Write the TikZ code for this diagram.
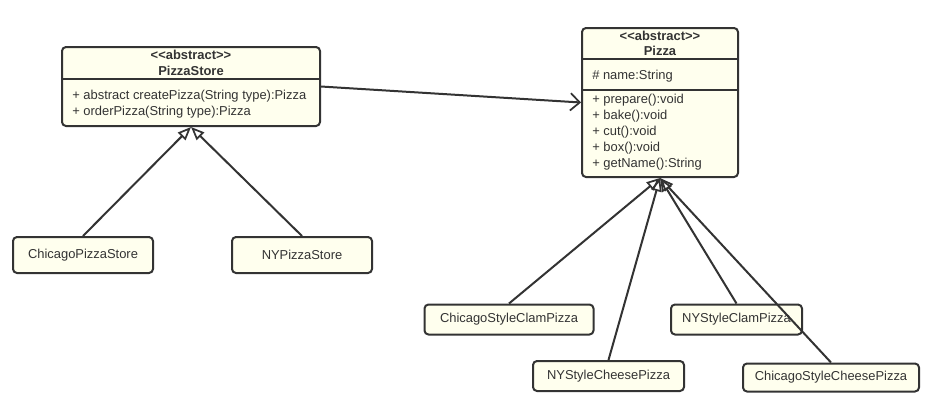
\documentclass[tikz,border=0pt]{standalone}
\usepackage{fontspec}
\setmainfont{Liberation Sans}
\usetikzlibrary{arrows.meta,calc}
\definecolor{boxfill}{RGB}{255,255,238}
\definecolor{ink}{RGB}{51,51,51}
\begin{document}
\begin{tikzpicture}[x=0.75pt,y=-0.75pt,
  bodytxt/.style={font=\fontsize{9.7}{12}\selectfont, text=ink, inner sep=0pt},
  hdrtxt/.style={font=\fontsize{9.7}{12}\selectfont\bfseries, text=ink, inner sep=0pt},
  umlbox/.style={draw=ink, fill=boxfill, line width=1.5pt, rounded corners=3pt, inner sep=0pt, font=\fontsize{9.7}{12}\selectfont, text=ink},
  divider/.style={draw=ink, line width=1.5pt},
  inherit/.style={draw=ink, line width=1.5pt, -{Triangle[open, length=10pt, width=8pt, line width=1.3pt]}},
  assoc/.style={draw=ink, line width=1.5pt, -{Straight Barb[length=7pt, width=13pt, line width=1.3pt]}},
]
\useasboundingbox[fill=white] (0,0) rectangle (939,412);

% PizzaStore
\node[umlbox, minimum width=193.5pt, minimum height=59.25pt] (ps) at (191,86.5) {};
\draw[divider] ($(ps.north west)+(0,32.5)$) -- ($(ps.north east)+(0,32.5)$);
\node[hdrtxt, anchor=base] (psst) at (191,59) {<{}<abstract>{}>};
\node[hdrtxt, anchor=base] (psname) at (191,75) {PizzaStore};
\node[bodytxt, anchor=base west] (psm1) at (72,99) {+ abstract createPizza(String type):Pizza};
\node[bodytxt, anchor=base west] (psm2) at (72,115) {+ orderPizza(String type):Pizza};

% Pizza
\node[umlbox, minimum width=117pt, minimum height=111.75pt] (pz) at (660,102.5) {};
\draw[divider] ($(pz.north west)+(0,31.5)$) -- ($(pz.north east)+(0,31.5)$);
\draw[divider] ($(pz.north west)+(0,63)$) -- ($(pz.north east)+(0,63)$);
\node[hdrtxt, anchor=base] (pzst) at (660,40.5) {<{}<abstract>{}>};
\node[hdrtxt, anchor=base] (pzname) at (660,55.5) {Pizza};
\node[bodytxt, anchor=base west] (pza1) at (592,79) {\# name:String};
\node[bodytxt, anchor=base west] (pzm1) at (592,103) {+ prepare():void};
\node[bodytxt, anchor=base west] (pzm2) at (592,119) {+ bake():void};
\node[bodytxt, anchor=base west] (pzm3) at (592,135) {+ cut():void};
\node[bodytxt, anchor=base west] (pzm4) at (592,151) {+ box():void};
\node[bodytxt, anchor=base west] (pzm5) at (592,167) {+ getName():String};

% Concrete stores
\node[umlbox, minimum width=105pt, minimum height=27pt] (cps) at (83,255) {ChicagoPizzaStore};
\node[umlbox, minimum width=105pt, minimum height=27pt] (nps) at (302,255) {NYPizzaStore};

% Concrete pizzas
\node[umlbox, minimum width=126.75pt, minimum height=22.5pt] (cclam) at (509,319.5) {ChicagoStyleClamPizza};
\node[umlbox, minimum width=98.25pt, minimum height=22.5pt] (nclam) at (736.5,319.5) {NYStyleClamPizza};
\node[umlbox, minimum width=113.25pt, minimum height=22.5pt] (nchee) at (608.5,376) {NYStyleCheesePizza};
\node[umlbox, minimum width=132pt, minimum height=21pt] (cchee) at (831,377.5) {ChicagoStyleCheesePizza};

% Connectors
\draw[assoc] (ps.east) -- (pz.west);
\draw[inherit] (cps.north) -- (ps.south);
\draw[inherit] (nps.north) -- (ps.south);
\draw[inherit] (cclam.north) -- (pz.south);
\draw[inherit] (nchee.north) -- (pz.south);
\draw[inherit] (nclam.north) -- (pz.south);
\draw[inherit] (cchee.north) -- (pz.south);
\end{tikzpicture}
\end{document}
